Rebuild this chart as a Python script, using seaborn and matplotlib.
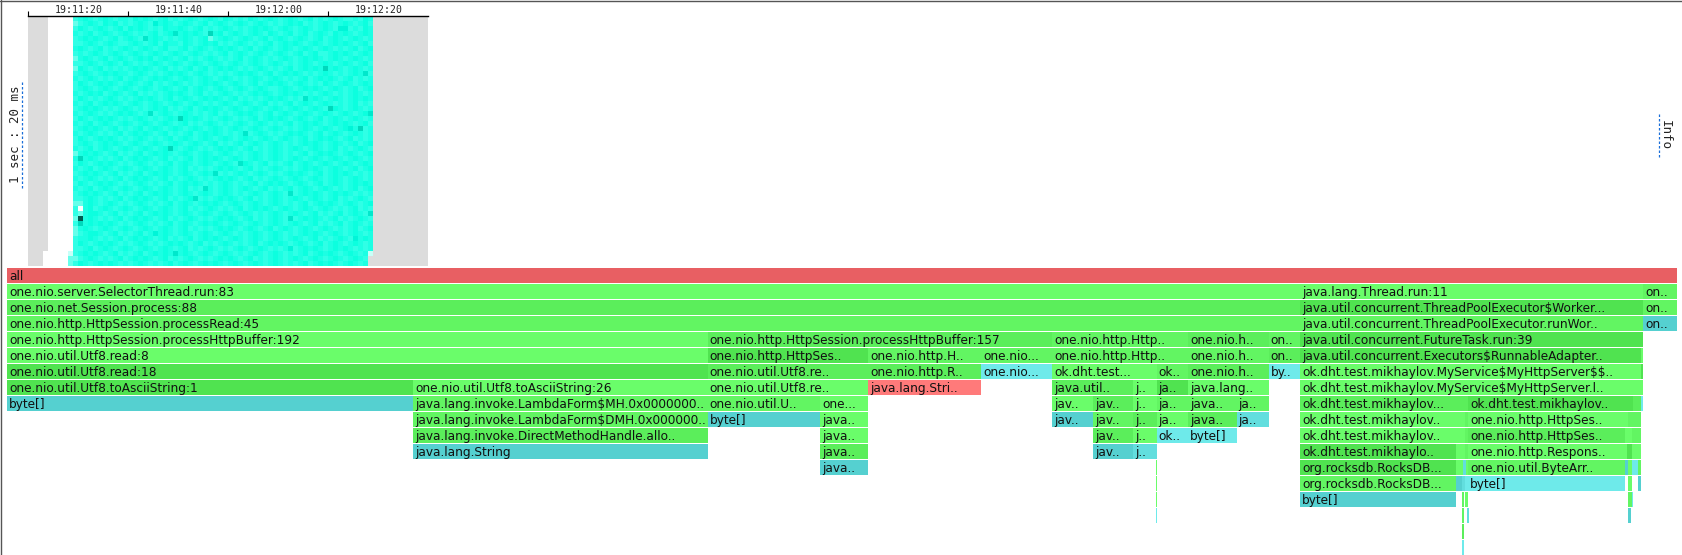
import numpy as np
import pandas as pd
import seaborn as sns
import matplotlib
matplotlib.use("Agg")
import matplotlib.pyplot as plt
from matplotlib.colors import ListedColormap
from matplotlib.lines import Line2D

# ---------------- data ----------------
TIME_TICKS = ["19:11:20", "19:11:40", "19:12:00", "19:12:20"]

# sample density per time bucket: column 8 (".") then columns 9..68, top row first
HEAT_ROWS = [
". 3454345434 4354543453 4345434543 5434354345 4345434534 3454334354",
". 2345435453 4345436454 3454345345 4345434543 4345453434 5434543453",
". 3543454345 3545434354 4543453434 5434345454 3454345434 5436634354",
". 4345345434 5434345345 7454543845 3454345435 4345345345 4354543454",
". 3454543453 4543745434 3454345234 5434543453 4543454345 3454345434",
". 3345434543 3454345354 4354345453 4345434345 3454543454 3454543453",
". 4543453434 5434543453 3453454345 4543453454 3454345434 5434345345",
". 3434543454 3454345434 5434543434 5345434543 4543453453 3454543454",
". 2454345345 4345453454 3453434543 4345345434 3454345454 3454345434",
". 3345434543 5434345434 5434543454 3454345434 5434345434 5434543453",
". 2543453434 3454543453 4345345345 4543434543 4345345454 8454345434",
". 3454345454 4345434345 4543454343 4345454345 3454543434 5434345473",
". 4345434345 3454345454 3454345434 5434345434 5434345345 4543453434",
". 3543454543 4543453434 5434345454 3454345345 4543454343 5434543454",
". 3454345434 5434543454 3453454345 4345434543 3454345454 3454345345",
". 4345453454 3453434345 4543453434 5434345454 3454543434 5434345434",
". 3543434543 4345454345 3454345454 3453434345 4543437454 3454345454",
". 4345345454 3454345434 5434543434 5434543453 4345345434 5434345343",
". 3454543434 5434345453 4345345454 3454345434 5434543454 3854345434",
". 4345434345 4543473454 3454343453 4345454345 3454345434 5434543457",
". 3543454543 4345434345 4854543434 5434345345 4543454345 3454345434",
". 4345345434 5434543454 3453434543 4345434543 4345345454 3454543453",
". 3454543453 4345345434 5434543454 3454345434 5434345434 5434564834",
". 4345434345 3454543453 4345345454 3434734543 4345454345 3454345434",
". 3543454543 4345434345 3454345434 5434543454 3454345345 4543453434",
". 3454345454 3454345434 5434543453 4345345434 5434345454 3454345345",
". 4345345434 5434543458 4345434345 4543453434 5434543454 3453434543",
". 2454543453 4345345454 3454345434 5434345434 5434345345 4543454345",
". 4845434345 3454543453 4345345454 3454345434 5434543454 3454345434",
". 3543454543 4345434345 3454345434 5437543453 4345345434 5434543454",
". 4345345434 5434543454 3453434345 4543453434 5434345454 3454345345",
". 3454543453 4345345454 3454345473 4345434543 4345454345 3454543434",
". 4345434345 3454543453 4345434345 4543453434 5434543454 3454345434",
". 3543454543 4345434345 3454543434 5434345345 4543454345 3454345454",
". 4345345434 5434543454 3453437434 5434543453 4345345434 5434345345",
". 3454543453 4345345454 3454345434 5434345434 5437345454 3454543434",
". 3345434345 3454543453 4345734345 4543453434 5434543454 3453434543",
". 2245434543 4345434345 3454345454 3454345434 5434345345 4543454345",
". 3045345434 5434543454 3453434543 4345345454 3454345434 5434345343",
". 3245543453 4345345454 3454345434 5434543434 5434543453 4345345437",
". 2945434345 3454543453 4345434345 4543453434 5437345454 3453434543",
". 3845454543 4345434345 3454345454 3454345434 5434543453 4345345434",
". 2454345434 5434543454 3453434345 4543454345 3454345434 5434345345",
". 2345543453 4345346454 3454345434 5434345434 5434345454 3454345434",
". 3445434345 3454543453 4345345454 3454345434 5434543453 4345436454",
". 3543454543 4345434345 4543453434 5434345345 4543454345 3454345434",
". 3345345434 5434543454 3453434543 4345434543 4346345454 3454543434",
"1 3454543453 4345345454 7454345434 5434345434 5434345345 4543454341",
"2 2345434345 3454543453 4345434345 4543453434 5434543454 345434543#",
"2 3543454543 4345434345 3454345454 3454345434 5434345345 454345434#",
]

# frames per stack depth: (name, first sample, samples, frame kind)
DEPTH_00 = [("all", 0, 1670, "R")]
DEPTH_01 = [("one.nio.server.SelectorThread.run:83", 0, 1293, "a"), ("java.lang.Thread.run:11", 1293, 343, "a"),
            ("on..", 1636, 34, "b")]
DEPTH_02 = [("one.nio.net.Session.process:88", 0, 1293, "c"),
            ("java.util.concurrent.ThreadPoolExecutor$Worker...", 1293, 343, "d"), ("on..", 1636, 34, "b")]
DEPTH_03 = [("one.nio.http.HttpSession.processRead:45", 0, 1293, "b"),
            ("java.util.concurrent.ThreadPoolExecutor.runWor..", 1293, 343, "b"), ("on..", 1636, 34, "t")]
DEPTH_04 = [("one.nio.http.HttpSession.processHttpBuffer:192", 0, 700.5, "a"),
            ("one.nio.http.HttpSession.processHttpBuffer:157", 700.5, 344.5, "c"),
            ("one.nio.http.Http..", 1045, 136, "b"), ("one.nio.h..", 1181, 80.7, "c"), ("on..", 1261.7, 31.3, "b"),
            ("java.util.concurrent.FutureTask.run:39", 1293, 343, "d")]
DEPTH_05 = [("one.nio.util.Utf8.read:8", 0, 700.5, "a"), ("one.nio.http.HttpSes..", 700.5, 160.5, "d"),
            ("one.nio.http.H..", 861, 113.4, "b"), ("one.nio...", 974.4, 70.6, "b"),
            ("one.nio.http.Http..", 1045, 136, "b"), ("one.nio.h..", 1181, 80.7, "b"), ("on..", 1261.7, 31.3, "c"),
            ("java.util.concurrent.Executors$RunnableAdapter..", 1293, 341, "d"), ("", 1634, 2, "a")]
DEPTH_06 = [("one.nio.util.Utf8.read:18", 0, 700.5, "d"), ("one.nio.util.Utf8.re..", 700.5, 160.5, "c"),
            ("one.nio.http.R..", 861, 113.4, "c"), ("one.nio...", 974.4, 70.6, "l"),
            ("ok.dht.test...", 1045, 104.7, "a"), ("ok..", 1149.7, 31.3, "b"), ("one.nio.h..", 1181, 80.7, "c"),
            ("by..", 1261.7, 31.3, "l"), ("ok.dht.test.mikhaylov.MyService$MyHttpServer$$..", 1293, 341, "a"),
            ("", 1634, 2, "d")]
DEPTH_07 = [("one.nio.util.Utf8.toAsciiString:1", 0, 406, "d"), ("one.nio.util.Utf8.toAsciiString:26", 406, 294.5, "a"),
            ("one.nio.util.Utf8.re..", 700.5, 160.5, "a"), ("java.lang.Stri..", 861, 113.4, "p"),
            ("java.util..", 1045, 81, "c"), ("j..", 1126, 23.7, "a"), ("ja..", 1149.7, 31.3, "d"),
            ("java.lang..", 1181, 80.7, "a"), ("ok.dht.test.mikhaylov.MyService$MyHttpServer.l..", 1293, 343, "a")]
DEPTH_08 = [("byte[]", 0, 406, "t"), ("java.lang.invoke.LambdaForm$MH.0x0000000..", 406, 294.5, "b"),
            ("one.nio.util.U..", 700.5, 112.9, "b"), ("one...", 813.4, 47.6, "a"), ("jav..", 1045, 41, "a"),
            ("jav..", 1086, 40, "c"), ("j..", 1126, 23.7, "a"), ("ja..", 1149.7, 31.3, "b"), ("java..", 1181, 48.7, "b"),
            ("ja..", 1229.7, 32, "b"), ("ok.dht.test.mikhaylov...", 1293, 168.3, "c"),
            ("ok.dht.test.mikhaylov..", 1461.3, 164.4, "d"), ("", 1625.7, 8.3, "c"), ("", 1634, 2, "l")]
DEPTH_09 = [("java.lang.invoke.LambdaForm$DMH.0x000000..", 406, 294.5, "b"), ("byte[]", 700.5, 112.9, "t"),
            ("java..", 813.4, 47.6, "a"), ("jav..", 1045, 41, "t"), ("jav..", 1086, 40, "b"), ("j..", 1126, 23.7, "c"),
            ("ja..", 1149.7, 31.3, "a"), ("java..", 1181, 48.7, "c"), ("ja..", 1229.7, 32, "u"),
            ("ok.dht.test.mikhaylov..", 1293, 165, "a"), ("", 1458, 3.3, "b"),
            ("one.nio.http.HttpSes..", 1461.3, 159.4, "a"), ("", 1620.7, 4.3, "b"), ("", 1625, 9, "b")]
DEPTH_10 = [("java.lang.invoke.DirectMethodHandle.allo..", 406, 294.5, "c"), ("java..", 813.4, 47.6, "a"),
            ("jav..", 1086, 40, "c"), ("j..", 1126, 23.7, "a"), ("ok..", 1149.7, 31.3, "l"), ("byte[]", 1181, 48.7, "l"),
            ("ok.dht.test.mikhaylov..", 1293, 165, "a"), ("", 1458, 3.3, "b"),
            ("one.nio.http.HttpSes..", 1461.3, 156.7, "c"), ("", 1618, 7, "a"), ("", 1625, 9, "b")]
DEPTH_11 = [("java.lang.String", 406, 294.5, "t"), ("java..", 813.4, 47.6, "c"), ("jav..", 1086, 40, "t"),
            ("j..", 1126, 23.7, "u"), ("ok.dht.test.mikhaylo..", 1293, 155.7, "d"), ("", 1448.7, 9.3, "a"),
            ("", 1458, 3.3, "b"), ("one.nio.http.Respons..", 1461.3, 158.7, "a"), ("", 1620, 5, "d"), ("", 1625, 9, "a")]
DEPTH_12 = [("java..", 813.4, 47.6, "t"), ("", 1149, 0.6, "a"), ("org.rocksdb.RocksDB...", 1293, 155.7, "d"),
            ("", 1448.7, 7.3, "a"), ("", 1456, 3, "u"), ("", 1459, 2.3, "a"),
            ("one.nio.util.ByteArr..", 1461.3, 157, "b"), ("", 1618.3, 2.7, "t"), ("", 1621, 4, "a"),
            ("", 1625, 6, "l"), ("", 1631, 3, "b")]
DEPTH_13 = [("", 1149, 0.6, "a"), ("org.rocksdb.RocksDB...", 1293, 156, "b"), ("", 1449, 6, "t"), ("", 1455, 3, "u"),
            ("", 1458, 3.3, "l"), ("byte[]", 1461.3, 156.7, "l"), ("", 1620.7, 4.3, "a"), ("", 1631, 3, "t")]
DEPTH_14 = [("", 1149, 0.6, "a"), ("byte[]", 1293, 156, "t"), ("", 1455, 2, "b"), ("", 1458, 3, "a"),
            ("", 1620.7, 4, "b"), ("", 1624.7, 1.3, "l")]
DEPTH_15 = [("", 1149, 0.6, "l"), ("", 1455, 2, "b"), ("", 1460, 1.6, "u"), ("", 1620.7, 3, "t")]
DEPTH_16 = [("", 1455, 2, "c")]
DEPTH_17 = [("", 1455, 2, "l")]
DEPTHS = [DEPTH_00, DEPTH_01, DEPTH_02, DEPTH_03, DEPTH_04, DEPTH_05, DEPTH_06, DEPTH_07, DEPTH_08,
          DEPTH_09, DEPTH_10, DEPTH_11, DEPTH_12, DEPTH_13, DEPTH_14, DEPTH_15, DEPTH_16, DEPTH_17]

# ---------------- styles ----------------
W, H = 1682, 555
KIND_COLORS = {"R": "#e85f63", "a": "#6afd6a", "b": "#62f562", "c": "#5bee5b", "d": "#50e350",
               "t": "#55d0d0", "u": "#62dede", "l": "#6eeaea", "p": "#ff7a7a"}
HEAT_LEVELS = ["#ffffff", "#c8fff8", "#66ffeb", "#30ffe6", "#1cffe3", "#0cffdf",
               "#00f5d8", "#00e8cc", "#00d8bc", "#005a50"]
GRAY = "#dcdcdc"
BLUE = "#1a6fd8"
MONO = "DejaVu Sans Mono"

sns.set_theme(style="white")
plt.rcParams["font.family"] = ["DejaVu Sans"]
fig = plt.figure(figsize=(W / 100, H / 100), dpi=100, facecolor="white")


def rect(left, top, width, height):
    return [left / W, 1 - (top + height) / H, width / W, height / H]


# ---------------- heat map ----------------
heat = np.full((50, 80), np.nan)
for r, row in enumerate(HEAT_ROWS):
    chars = row.replace(" ", "")
    for c, ch in enumerate(chars):
        if ch.isdigit():
            heat[r, 8 + c] = int(ch)
heat[40, 10] = 9
heat[41, 10] = 7.6
heat[28, 10] = 7.6
gray = np.full((50, 80), np.nan)
gray[:47, :4] = 1
gray[47:, :3] = 1
gray[:, 69:] = 1
gray[48:, 68] = 1

hax = fig.add_axes(rect(28.3, 15.7, 400, 250))
sns.heatmap(pd.DataFrame(gray), ax=hax, cmap=ListedColormap([GRAY]), cbar=False, vmin=0, vmax=2,
            xticklabels=False, yticklabels=False)
sns.heatmap(pd.DataFrame(heat), ax=hax, cmap=ListedColormap(HEAT_LEVELS), cbar=False, vmin=-0.5, vmax=9.5,
            xticklabels=False, yticklabels=False)
hax.set_xlabel("")
hax.set_ylabel("")
for side in ("left", "right", "bottom"):
    hax.spines[side].set_visible(False)
hax.spines["top"].set_visible(True)
hax.spines["top"].set_color("black")
hax.spines["top"].set_linewidth(1.0)
hax.xaxis.tick_top()
hax.set_xticks([0, 20, 40, 60])
hax.set_xticklabels([])
hax.set_xticks([10, 30, 50, 70], minor=True)
hax.set_xticklabels(TIME_TICKS, minor=True, fontfamily=MONO, fontsize=7.1, color="#222222")
hax.tick_params(axis="x", which="major", top=True, bottom=False, length=3.6, width=0.8, color="black", direction="out")
hax.tick_params(axis="x", which="minor", top=False, bottom=False, length=0, pad=0.8, labeltop=True, labelbottom=False)
hax.tick_params(axis="y", left=False, right=False)

# side labels
fig.text(16 / W, 1 - 134 / H, "1 sec : 20 ms", rotation=90, ha="center", va="center",
         fontfamily=MONO, fontsize=9.0, color="#222222")
fig.text(1665 / W, 1 - 135.5 / H, "Info", rotation=-90, ha="center", va="center",
         fontfamily=MONO, fontsize=9.0, color="#222222")
for x, y0, y1 in [(22.3, 82, 190), (1659.3, 114, 157)]:
    fig.add_artist(Line2D([x / W, x / W], [1 - y0 / H, 1 - y1 / H], color=BLUE, lw=0.9,
                          linestyle=(0, (2, 1.6)), transform=fig.transFigure))

# window border
fig.add_artist(Line2D([0.5 / W, 0.5 / W], [0, 1], color="#555555", lw=1.0, transform=fig.transFigure))
fig.add_artist(Line2D([0, 1], [1 - 0.5 / H, 1 - 0.5 / H], color="#555555", lw=1.0, transform=fig.transFigure))

# ---------------- flame graph ----------------
fax = fig.add_axes(rect(7, 267.5, 1670, 287.5))
fax.patch.set_alpha(0)
for depth, frames in enumerate(DEPTHS):
    starts = [f[1] for f in frames]
    samples = [f[2] for f in frames]
    colors = [KIND_COLORS[f[3]] for f in frames]
    fax.barh(depth, samples, left=starts, height=15 / 16, color=colors, linewidth=0)
    for name, start, count, _ in frames:
        if name:
            fax.text(start + 2, depth + 0.09, name, ha="left", va="center", fontsize=8.7,
                     color="#111111", parse_math=False)
fax.set_xlim(0, 1670)
fax.set_ylim((555 - 275.5) / 16, -0.5)
fax.set_axis_off()

fig.savefig("out.png", dpi=100, facecolor="white")
